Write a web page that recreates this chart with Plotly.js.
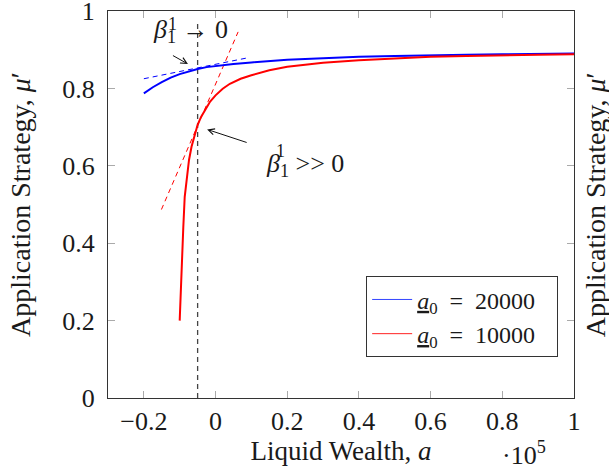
<!DOCTYPE html>
<html>
<head>
<meta charset="utf-8">
<script src="https://cdn.plot.ly/plotly-3.0.1.min.js"></script>
<style>html,body{margin:0;padding:0;background:#fff;}#chart{width:609px;height:476px;}</style>
</head>
<body>
<div id="chart"></div>
<script>
// Series a0 = 20000 (blue)
var blueX = [-0.2, -0.175, -0.15, -0.125, -0.1, -0.075, -0.05, -0.025, 0, 0.05, 0.1, 0.15, 0.2, 0.3, 0.4, 0.5, 0.6, 0.7, 0.8, 0.9, 1.0];
var blueY = [0.787, 0.803, 0.816, 0.828, 0.837, 0.844, 0.850, 0.855, 0.858, 0.863, 0.867, 0.871, 0.874, 0.878, 0.882, 0.884, 0.886, 0.887, 0.888, 0.889, 0.890];
// Series a0 = 10000 (red)
var redX = [-0.1, -0.097, -0.094, -0.09, -0.086, -0.08, -0.074, -0.067, -0.058, -0.05, -0.04, -0.03, -0.015, 0, 0.02, 0.04, 0.07, 0.1, 0.15, 0.2, 0.3, 0.4, 0.5, 0.6, 0.7, 0.8, 0.9, 1.0];
var redY = [0.20, 0.29, 0.37, 0.44, 0.52, 0.575, 0.615, 0.649, 0.683, 0.706, 0.727, 0.744, 0.766, 0.782, 0.799, 0.812, 0.825, 0.834, 0.847, 0.856, 0.866, 0.873, 0.878, 0.882, 0.884, 0.886, 0.887, 0.888];
// Tangent lines
var blueTanX = [-0.2, 0.095];
var blueTanY = [0.825, 0.880];
var redTanX = [-0.151, 0.063];
var redTanY = [0.487, 0.946];
// Vertical reference line
var refX = [-0.05, -0.05];
var refY = [0, 0.97];
// Ticks
var xTickVals = [-0.2, 0, 0.2, 0.4, 0.6, 0.8, 1];
var xTickText = ["\u22120.2", "0", "0.2", "0.4", "0.6", "0.8", "1"];
var yTickVals = [0, 0.2, 0.4, 0.6, 0.8, 1];
var yTickText = ["0", "0.2", "0.4", "0.6", "0.8", "1"];
var seriesNames = ["<u><i>a</i></u><sub>0</sub>\u2002=\u200220000\u2002\u2009", "<u><i>a</i></u><sub>0</sub>\u2002=\u200210000\u2002\u2009"];

var FONT = "Liberation Serif, Times New Roman, serif";
var TXT = "#1a1a1a";

var traces = [
  {x: refX, y: refY, mode: "lines", line: {color: "#444", width: 1.3, dash: "5px,4px"}, showlegend: false, hoverinfo: "skip"},
  {x: blueTanX, y: blueTanY, mode: "lines", line: {color: "#0000ff", width: 1, dash: "5px,4px"}, showlegend: false},
  {x: redTanX, y: redTanY, mode: "lines", line: {color: "#ff0000", width: 1, dash: "5px,4px"}, showlegend: false},
  {x: blueX, y: blueY, mode: "lines", line: {color: "#0000ff", width: 2}, showlegend: false},
  {x: redX, y: redY, mode: "lines", line: {color: "#ff0000", width: 2}, showlegend: false},
  {x: [null], y: [null], mode: "lines", name: seriesNames[0], line: {color: "#3344ff", width: 1}},
  {x: [null], y: [null], mode: "lines", name: seriesNames[1], line: {color: "#ff2222", width: 1}}
];

var axisCommon = {
  showgrid: false, zeroline: false, showline: true, linecolor: "#333", linewidth: 1,
  mirror: "ticks", ticks: "inside", ticklen: 7, tickcolor: "#aaa", tickwidth: 1,
  tickmode: "array", ticklabeloverflow: "allow", tickfont: {family: FONT, size: 26, color: TXT}
};

var layout = {
  width: 609, height: 476,
  margin: {l: 108, r: 35, t: 11, b: 78},
  paper_bgcolor: "#fff", plot_bgcolor: "#fff",
  font: {family: FONT, size: 26, color: TXT},
  xaxis: Object.assign({}, axisCommon, {
    range: [-0.3, 1], tickvals: xTickVals, ticktext: xTickText, ticklabelstandoff: 0,
    title: {text: "Liquid Wealth, <i>a</i>", font: {family: FONT, size: 27, color: TXT}, standoff: 0}
  }),
  yaxis: Object.assign({}, axisCommon, {
    range: [0, 1], tickvals: yTickVals, ticktext: yTickText, ticklabelstandoff: 7,
    title: {text: "Application Strategy, <i>μ</i>′", font: {family: FONT, size: 28, color: TXT}, standoff: 23}
  }),
  legend: {
    x: 0.966, y: 0.105, xanchor: "right", yanchor: "bottom",
    bgcolor: "#fff", bordercolor: "#333", borderwidth: 1, itemwidth: 40,
    font: {family: FONT, size: 24, color: TXT}
  },
  showlegend: true,
  annotations: [
    {xref: "x", yref: "y", x: -0.0705, y: 0.9475, text: "<i>β</i><sub>1</sub> → 0", showarrow: false, font: {family: FONT, size: 26, color: TXT}},
    {xref: "x", yref: "y", x: -0.119, y: 0.966, text: "1", showarrow: false, font: {family: FONT, size: 18, color: TXT}},
    {xref: "x", yref: "y", x: 0.25, y: 0.601, text: "<i>β</i><sub>1</sub> >> 0", showarrow: false, font: {family: FONT, size: 26, color: TXT}},
    {xref: "x", yref: "y", x: 0.182, y: 0.637, text: "1", showarrow: false, font: {family: FONT, size: 18, color: TXT}},
    {xref: "x", yref: "y", axref: "x", ayref: "y", x: -0.077, y: 0.863, ax: -0.123, ay: 0.887, text: "", showarrow: true, arrowhead: 5, arrowsize: 1.2, arrowwidth: 1, arrowcolor: "#111"},
    {xref: "x", yref: "y", axref: "x", ayref: "y", x: -0.0235, y: 0.694, ax: 0.091, ay: 0.659, text: "", showarrow: true, arrowhead: 5, arrowsize: 1.2, arrowwidth: 1, arrowcolor: "#111"},
    {xref: "paper", yref: "paper", x: 0.944, y: -0.143, yanchor: "middle", text: "·10<sup>5</sup>", showarrow: false, font: {family: FONT, size: 26, color: TXT}},
    {xref: "paper", yref: "paper", x: 1.084, y: 0.5, textangle: -90, text: "Application Strategy, <i>μ</i>′", showarrow: false, font: {family: FONT, size: 28, color: TXT}}
  ]
};

Plotly.newPlot("chart", traces, layout, {staticPlot: true, displayModeBar: false});
</script>
</body>
</html>
